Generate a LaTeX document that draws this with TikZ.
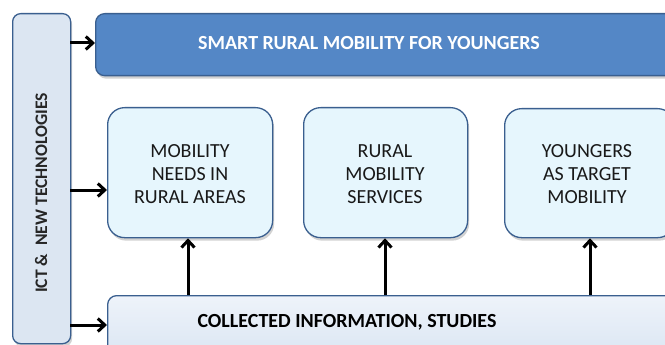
\documentclass[tikz,border=0pt]{standalone}
\usepackage{fontspec}
\setmainfont{Carlito}
\usetikzlibrary{arrows.meta,shadows,positioning}
\definecolor{edgeblue}{HTML}{3A5F8F}
\definecolor{topfill}{HTML}{5487C6}
\definecolor{sidefill}{HTML}{DCE6F2}
\definecolor{midfill}{HTML}{E6F6FD}
\definecolor{basetop}{HTML}{EEF3FA}
\definecolor{basebot}{HTML}{D8E4F2}
\tikzset{
  panel/.style={draw=edgeblue, line width=1.3pt, drop shadow={shadow xshift=1.5pt, shadow yshift=-3pt, opacity=0.35}},
  titlebox/.style={panel, fill=topfill, rounded corners=9pt},
  sidebox/.style={panel, fill=sidefill, rounded corners=8pt},
  topicbox/.style={panel, fill=midfill, rounded corners=17pt},
  basebox/.style={panel, top color=basetop, bottom color=basebot, rounded corners=9pt},
  flow/.style={line width=3pt, -{Straight Barb[length=7pt,width=13pt,line width=3pt]}},
  topictext/.style={font=\fontsize{20}{23}\selectfont, align=center, text=black!90},
  boldtext/.style={font=\fontsize{20}{23}\selectfont\bfseries}
}
\begin{document}
\begin{tikzpicture}[x=1pt,y=-1pt]
\useasboundingbox (0,0) rectangle (665,345);
\clip (0,0) rectangle (665,345);
\fill[white] (0,0) rectangle (665,345);

% side column
\node[sidebox, minimum width=58pt, minimum height=330pt, anchor=north west, inner sep=0pt] (side) at (12,13) {};
\node[font=\fontsize{17.6}{20}\selectfont\bfseries, rotate=90, text=black!85] (sidetext) at (41,193) {ICT \&~~NEW TECHNOLOGIES};

% title bar
\node[titlebox, minimum width=600pt, minimum height=62pt, anchor=north west, inner sep=0pt] (title) at (95,13) {};
\node[boldtext, text=white] (titletext) at (369,43) {SMART RURAL MOBILITY FOR YOUNGERS};

% topic boxes
\node[topicbox, minimum width=165pt, minimum height=130pt, anchor=north west, inner sep=0pt] (needs) at (107,107) {};
\node[topictext] (needstext) at (190,174) {MOBILITY\\NEEDS IN\\RURAL AREAS};
\node[topicbox, minimum width=164pt, minimum height=130pt, anchor=north west, inner sep=0pt] (services) at (303,107) {};
\node[topictext] (servicestext) at (385,174) {RURAL\\MOBILITY\\SERVICES};
\node[topicbox, minimum width=170pt, minimum height=129pt, anchor=north west, inner sep=0pt] (young) at (504,108) {};
\node[topictext] (youngtext) at (587,174) {YOUNGERS\\AS TARGET\\MOBILITY};

% base bar
\node[basebox, minimum width=600pt, minimum height=70pt, anchor=north west, inner sep=0pt] (base) at (107,295) {};
\node[boldtext, text=black] (basetext) at (347,322) {COLLECTED INFORMATION, STUDIES};

% connectors
\coordinate (s1) at (70,43);
\coordinate (s2) at (70,190);
\coordinate (s3) at (70,325);
\draw[flow] (s1) -- (title.west |- s1);
\draw[flow] (s2) -- (needs.west |- s2);
\draw[flow] (s3) -- (base.west |- s3);

\coordinate (b1) at (188,295);
\coordinate (b2) at (385,295);
\coordinate (b3) at (590,295);
\draw[flow] (b1) -- (b1 |- needs.south);
\draw[flow] (b2) -- (b2 |- services.south);
\draw[flow] (b3) -- (b3 |- young.south);
\end{tikzpicture}
\end{document}
